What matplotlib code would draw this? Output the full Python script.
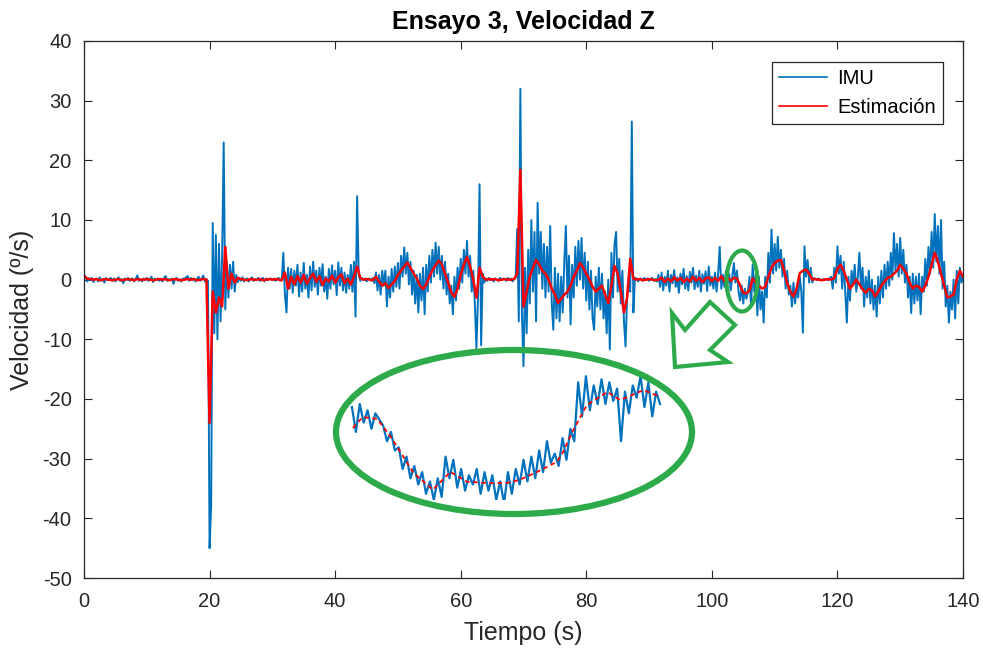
import numpy as np
import matplotlib
matplotlib.use("Agg")
import matplotlib.pyplot as plt
from matplotlib.patches import Ellipse, Polygon

plt.rcParams["font.family"] = ["Liberation Sans", "DejaVu Sans"]
plt.rcParams["axes.unicode_minus"] = False

IMU_COLOR = "#0072BD"
EST_COLOR = "#FF0000"
GREEN = "#2DAA4A"

# IMU sampled every 0.25 s, 2 s per row
IMU_DT = 0.25
imu = [
    0.8, 0.5, -0.3, 0.2, -0.1, 0.3, -0.4, 0.1,
    0.2, -0.3, 0.4, -0.2, 0.1, -0.5, 0.3, -0.1,
    0.0, 0.3, -0.2, 0.2, -0.3, 0.1, 0.4, -0.2,
    0.1, -0.6, 0.2, -0.1, 0.3, -0.2, 0.1, 0.2,
    -0.3, 0.2, 0.7, -0.2, 0.1, -0.3, 0.2, -0.1,
    0.3, -0.2, 0.1, 0.5, -0.4, 0.2, -0.1, 0.2,
    -0.2, 0.1, -0.3, 0.3, 0.6, -0.2, 0.1, -0.1,
    0.2, -0.7, 0.1, 0.3, -0.2, 0.1, -0.3, 0.2,
    0.1, 0.4, 0.6, -0.2, 0.3, -0.1, 0.2, -0.3,
    0.1, 0.5, -0.2, 0.2, 0.7, -0.3, 0.1, -0.2,
    -45.0, -38.0, 9.5, -9.0, 7.5, -10.0, 6.0, -7.0,       # 20 s
    4.0, 23.0, -5.0, 3.0, -3.0, 2.5, -1.5, 3.0,
    -2.0, 0.8, -0.4, 0.3, -0.2, 0.4, -0.3, 0.1,
    0.2, -0.3, 0.1, 0.4, -0.2, 0.1, -0.1, 0.3,
    -0.2, 0.1, 0.3, -0.3, 0.2, -0.1, 0.1, 0.2,
    -0.1, 0.2, -0.2, 0.1, 0.3, -0.2, 0.2, 4.5,
    -2.5, -5.5, 2.0, -1.5, 1.8, -2.2, 1.5, -1.0,           # 32 s
    2.5, -2.8, 1.2, -2.0, 2.8, -1.5, 0.8, -3.0,
    2.2, -1.8, 3.0, -1.2, 1.5, -2.5, 2.0, -1.0,
    2.6, -2.0, 0.5, -3.2, 1.8, -1.5, 2.4, -0.8,
    1.5, -2.6, 2.9, -1.0, 2.0, -1.8, 1.2, -2.2,
    0.8, -1.5, 2.5, -2.0, 3.0, -6.2, 14.0, 1.0,
    -0.2, 0.3, -0.1, 0.2, -0.3, 0.1, 0.2, -0.2,            # 44 s
    0.3, -0.6, 1.2, -1.8, 0.8, -2.5, 1.5, -1.0,
    1.5, -4.5, 0.5, -3.0, 1.8, -2.0, 2.2, -1.2,
    2.8, -1.5, 4.0, 0.5, 5.4, 1.0, 4.5, -0.8,
    3.0, -2.5, 1.5, -4.0, 0.8, -5.5, 1.0, -3.5,
    2.0, -5.8, 2.5, -2.0, 4.0, -0.5, 5.0, 0.5,
    6.2, 1.0, 5.5, 0.0, 4.0, -1.5, 3.0, -2.5,
    1.0, -4.0, -1.0, -5.8, 0.5, -3.5, 2.0, -1.5,
    3.5, -0.5, 5.0, 1.0, 6.5, 0.5, 4.0, -2.0,
    1.5, -4.0, -11.5, -3.0, 16.0, -11.0, 1.0, -0.5,       # 62 s
    0.2, -0.2, 0.3, -0.1, 0.1, -0.3, 0.2, 0.0,
    -0.2, 0.3, -0.1, 0.2, 0.1, -0.2, 0.3, -0.1,
    0.2, -0.3, 0.1, 0.3, 8.5, -7.0, 32.0, -6.0,            # 68 s
    -14.5, 2.0, -9.0, 5.0, -4.0, 10.0, -2.0, 8.0,
    -7.0, 12.9, 1.0, 8.0, -1.5, 6.0, -3.0, 5.5,
    -2.0, 9.0, -4.0, -8.4, 2.0, -6.5, 1.0, -7.0,
    0.5, -5.5, 3.0, 9.0, -3.0, 4.0, -7.5, 2.5,
    -3.0, 5.5, -1.0, 6.5, 0.0, 7.0, -1.5, 4.5,
    -3.5, 3.0, -5.0, 1.5, -6.5, -8.4, 0.5, -4.5,
    2.0, -5.0, 1.0, -6.5, -2.0, -9.0, 0.0, -11.7,
    4.5, -3.0, 6.0, 8.0, -2.0, 3.5, -4.0, 1.5,
    -7.0, -11.2, -3.0, 0.5, -2.0, 26.5, -5.5, 0.3,        # 86 s
    0.2, -0.3, 0.1, 0.2, -0.2, 0.3, -0.1, 0.2,
    -0.2, 0.1, 0.3, -0.2, 0.1, -0.3, 0.8, -1.2,
    1.2, -1.8, 0.5, -1.0, 1.5, -2.0, 0.8, -0.6,            # 92 s
    1.6, -1.2, 0.4, -2.2, 1.0, -0.8, 1.8, -1.5,
    0.6, -1.8, 1.3, -0.5, 2.0, -1.6, 0.7, -1.2,
    1.5, -2.0, 0.9, -0.7, 1.4, -1.9, 2.2, -1.0,
    0.5, -1.5, 1.2, -2.0, 1.0, 5.5, -1.5, 0.8,
    -1.2, 1.5, -0.6, 1.0, -1.8, 0.5, 2.8, -0.5,
    1.5, -2.0, -3.5, -1.0, -4.0, -1.5, -3.2, -2.0,         # 104 s
    0.5, -4.5, 2.5, -2.0, 1.0, -6.0, 0.5, -5.0,
    -2.0, -7.2, 0.5, -3.0, 4.5, -0.5, 8.4, 1.0,
    6.0, 1.5, 7.2, 2.0, 5.0, 0.5, 3.5, -1.5,
    1.5, -2.5, -1.0, -4.5, -0.5, -4.0, -1.5, -3.0,
    0.5, -2.0, -8.9, 5.6, 0.5, 3.3, -0.5, 2.0,
    -0.5, 0.3, 0.1, -0.1, 0.2, 0.0, -0.1, 0.1,             # 116 s
    0.0, 0.1, -0.1, 0.2, 0.5, -1.5, 2.0, -0.5,
    5.6, 1.0, 4.0, -1.5, 3.0, -2.0, -7.2, 0.5,             # 120 s
    -3.5, 1.5, -1.0, 2.5, -2.0, 0.5, 4.5, -1.5,
    2.0, -4.5, 0.5, -3.0, 1.5, -4.0, 0.0, -5.0,
    -1.0, -6.2, 0.5, -4.0, 1.5, -3.0, 2.5, -1.5,
    3.0, -1.0, 4.5, 0.0, 7.8, 1.5, 6.0, 0.5,
    7.0, 1.0, 5.0, -0.5, 2.5, -3.0, 0.5, -5.6,
    1.0, -4.0, 0.5, -3.5, 1.0, -5.8, 0.5, -2.0,
    3.5, -1.0, 5.5, 1.0, 8.0, 2.0, 11.0, 3.0,
    9.0, 1.0, 10.0, -1.5, 3.0, -4.5, -1.0, -7.2,
    -2.0, -5.0, 0.0, -6.5, 1.5, -4.0, 2.0, -0.5,
    0.5,
]

# estimate sampled every 0.5 s, 5 s per row
EST_DT = 0.5
est = [
    0.6, 0.2, 0.1, 0.0, 0.1, -0.1, 0.0, 0.1, 0.0, -0.1,
    0.0, 0.1, -0.1, 0.0, 0.1, 0.0, -0.1, 0.1, 0.0, 0.0,
    0.1, 0.0, -0.1, 0.0, 0.1, 0.0, 0.1, -0.1, 0.0, 0.1,
    0.0, -0.1, 0.0, 0.1, 0.0, 0.1, -0.1, 0.0, 0.1, 0.0,
    -24.0, -2.0, -5.5, -3.0, -4.5, 5.5, -1.5, 1.0, -0.5, 0.3,
    0.1, 0.0, -0.1, 0.1, 0.0, 0.0, 0.1, -0.1, 0.0, 0.1,
    0.0, 0.1, 0.0, -0.1, 1.2, -1.5, 0.5, -0.8, 0.6, -0.5,
    0.8, -0.7, 0.3, 1.0, -0.4, 0.6, -0.9, 0.2, -0.3, 0.7,
    -0.5, 0.4, 0.9, -0.6, 0.2, -0.8, 0.5, 2.2, 0.3, 0.0,
    0.1, 0.0, -0.1, 0.5, -0.3, -1.0, -0.6, -1.4, -0.8, -0.2,
    0.8, 1.5, 2.2, 2.9, 2.0, 1.0, 0.2, -1.0, -1.6, -0.8,
    0.5, 1.6, 2.4, 3.2, 2.6, 1.0, -0.5, -2.2, -2.9, -1.5,
    0.8, 2.5, 3.8, 2.2, 0.0, -3.0, 2.0, 0.5, 0.0, 0.1,
    0.0, 0.1, -0.1, 0.0, 0.1, 0.0, 0.0, 0.1, 1.0, 18.4,
    -4.5, -2.0, 0.5, 2.0, 3.3, 2.5, 1.5, 1.0, 0.0, -1.5,
    -2.5, -3.9, -3.2, -2.5, -2.0, -1.0, 0.5, 1.5, 2.8, 2.0,
    1.0, 0.0, -1.2, -2.0, -1.5, -1.0, -2.5, -3.9, -1.0, 2.3,
    1.0, -2.0, -5.5, -3.0, 3.5, 0.2, 0.0, 0.1, -0.1, 0.0,
    0.1, 0.0, -0.1, 0.0, 0.3, -0.4, 0.2, -0.3, 0.4, -0.2,
    0.3, -0.4, 0.2, -0.3, 0.5, -0.2, 0.3, -0.4, 0.2, 0.4,
    -0.3, 0.3, -0.2, 0.6, -0.3, 0.4, -0.2, 0.3, 0.2, -1.0,
    -2.2, -2.3, -1.8, 0.2, -0.5, -1.0, -1.5, -1.2, 0.5, 2.0,
    2.8, 3.2, 3.3, 1.5, -0.6, -2.0, -2.8, -1.5, 1.1, 1.5,
    1.7, 1.0, 0.0, 0.1, 0.0, -0.1, 0.0, 0.1, 0.0, 0.3,
    1.8, 2.5, 1.5, 0.0, -1.5, -0.8, 0.0, -0.8, -1.6, -2.2,
    -1.5, -1.8, -2.8, -2.0, -1.0, -0.3, 0.3, 0.5, 1.0, 1.5,
    2.5, 1.8, 1.0, -0.5, -1.5, -1.0, -1.2, -2.0, -1.0, 0.5,
    2.5, 4.5, 3.0, 1.0, -1.0, -3.0, -2.8, -2.5, 0.0, 1.5,
    0.5,
]

# zoomed detail shown inside the big ellipse (103.6 - 106.8 s)
zoom_imu_t0 = 103.62
zoom_imu_dt = 0.04
zoom_imu = [
    -0.2, -1.0, -0.1, -0.7, -0.3, -0.9, -0.4, -0.6,
    -0.8, -1.3, -1.0, -1.6, -1.5, -2.2, -1.8, -2.5,
    -2.1, -2.7, -2.3, -3.0, -2.6, -3.2, -2.5, -3.1,
    -1.8, -2.5, -1.9, -2.8, -2.2, -2.9, -2.4, -2.7,
    -2.2, -3.0, -2.3, -2.9, -2.4, -3.2, -2.6, -3.3,
    -2.3, -3.0, -2.2, -2.7, -1.9, -2.6, -1.8, -2.5,
    -1.6, -2.3, -1.3, -2.0, -1.7, -2.1, -1.2, -1.9,
    -0.9, -1.3, 0.6, -0.5, 0.8, -0.3, 0.5, -0.1,
    0.7, -0.1, 0.6, 0.0, 0.4, -1.3, 0.3, -0.4,
    0.5, 0.1, 0.8, -0.2, 0.6, -0.5, 0.3, -0.1,
]
zoom_est_t = [103.63, 103.73, 103.88, 104.04, 104.25, 104.45, 104.63, 104.80, 105.01, 105.21,
              105.34, 105.52, 105.72, 105.78, 105.89, 106.03, 106.24, 106.37, 106.61, 106.76]
zoom_est = [-0.87, -0.52, -0.58, -1.26, -2.32, -2.87, -2.29, -2.61, -2.65, -2.65,
            -2.55, -2.29, -1.97, -1.68, -0.94, -0.13, 0.29, 0.03, 0.35, 0.16]

W, H = 983, 652


def fx(px):
    return px / W


def fy(py):
    return 1 - py / H


fig = plt.figure(figsize=(W / 100, H / 100), dpi=100)
ax = fig.add_axes([fx(84), fy(578), 879 / W, 537 / H])

t_imu = np.arange(len(imu)) * IMU_DT
t_est = np.arange(len(est)) * EST_DT
ax.plot(t_imu, imu, color=IMU_COLOR, lw=1.4, label="IMU")
ax.plot(t_est, est, color=EST_COLOR, lw=1.8, label="Estimación")

ax.set_xlim(0, 140)
ax.set_ylim(-50, 40)
ax.set_xticks(np.arange(0, 141, 20))
ax.set_yticks(np.arange(-50, 41, 10))
ax.tick_params(direction="in", length=6, width=0.8, top=True, right=True,
               labelsize=14.5, colors="#262626")
ax.tick_params(axis="x", pad=10)
ax.tick_params(axis="y", pad=9)
for s in ax.spines.values():
    s.set_color("#262626")
    s.set_linewidth(0.9)

ax.set_title("Ensayo 3, Velocidad Z", fontsize=18, fontweight="bold", pad=9)
ax.set_xlabel("Tiempo (s)", fontsize=18, color="#262626", labelpad=7)
ax.set_ylabel("Velocidad (º/s)", fontsize=18, color="#262626", labelpad=6)

leg = ax.legend(loc="upper right", bbox_to_anchor=(0.977, 0.961), borderaxespad=0,
                fancybox=False, framealpha=1, edgecolor="#262626", fontsize=14.5,
                handlelength=2.4, handletextpad=0.5, borderpad=0.35, labelspacing=0.5)
leg.get_frame().set_linewidth(0.9)
for h in leg.get_lines():
    h.set_linewidth(1.2)

# inset with the zoomed section
ins = fig.add_axes([fx(350), fy(500), 312 / W, 130 / H])
ins.axis("off")
t_zoom = zoom_imu_t0 + np.arange(len(zoom_imu)) * zoom_imu_dt
ins.plot(t_zoom, zoom_imu, color=IMU_COLOR, lw=1.6)
ins.plot(zoom_est_t, zoom_est, color=EST_COLOR, lw=1.3, ls=(0, (2.5, 2)))
ins.set_xlim(103.6, 106.8)
ins.set_ylim(-3.2, 1.0)

# green annotations
fig.add_artist(Ellipse((fx(514), fy(432)), 356 / W, 164 / H, fill=False,
                       edgecolor=GREEN, lw=4.5, transform=fig.transFigure))
fig.add_artist(Ellipse((fx(742), fy(281)), 31 / W, 61 / H, fill=False,
                       edgecolor=GREEN, lw=3.0, transform=fig.transFigure))
arrow_px = [(675, 367), (672, 313), (685, 330), (710, 302), (735, 325),
            (710, 350), (728, 362)]
fig.add_artist(Polygon([(fx(x), fy(y)) for x, y in arrow_px], closed=True,
                       fill=False, edgecolor=GREEN, lw=3.0, joinstyle="miter",
                       transform=fig.transFigure))

fig.savefig("out.png", dpi=100)
